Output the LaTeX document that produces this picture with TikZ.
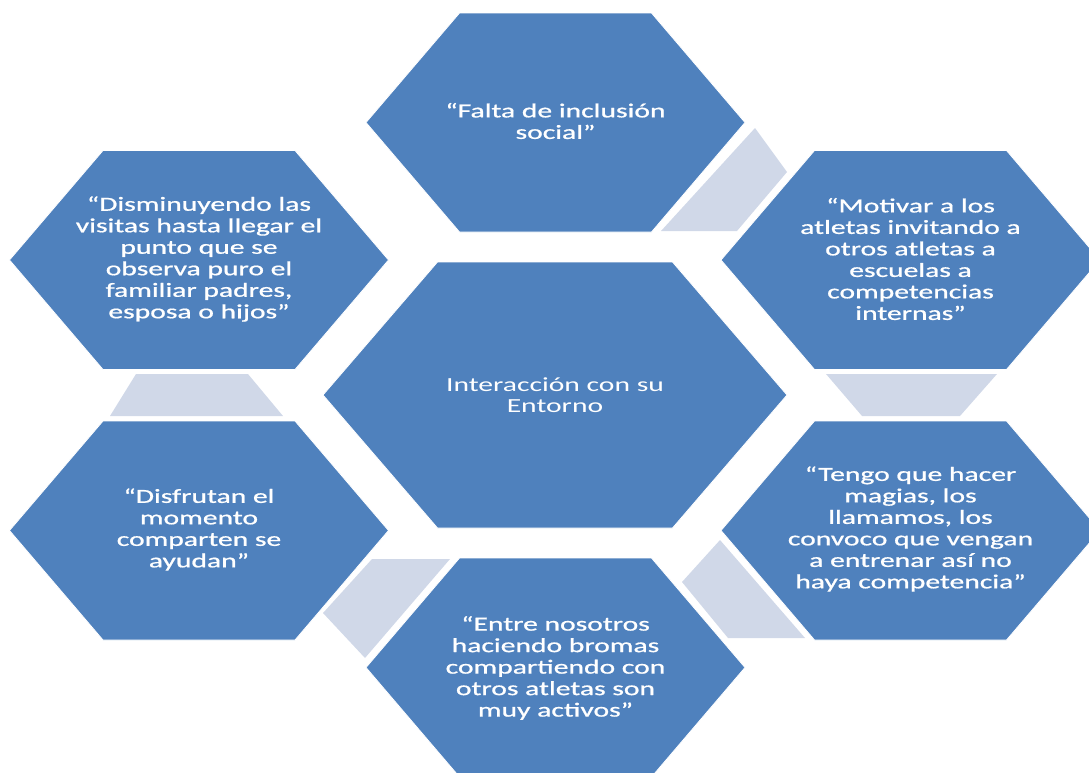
\documentclass[tikz,border=0pt]{standalone}
\usepackage{fontspec}
\setmainfont{Carlito}
\newfontfamily\outerfont[FakeBold=0.7]{Carlito}
\definecolor{hexblue}{RGB}{79,129,189}
\definecolor{arrgrey}{RGB}{208,216,232}
\newcommand{\hexshape}[5]{%
  \path[hexfill] ({#1-#3},{#2}) -- ({#1-#5},{#2-#4}) -- ({#1+#5},{#2-#4}) --
    ({#1+#3},{#2}) -- ({#1+#5},{#2+#4}) -- ({#1-#5},{#2+#4}) -- cycle;}
\begin{document}
\begin{tikzpicture}[x=1pt,y=-1pt,
  hexfill/.style={fill=hexblue, draw=white, line width=0.8pt},
  arrowpiece/.style={fill=arrgrey},
  lbl/.style={text=white, font=\fontsize{20}{21.5}\selectfont, align=center, xscale=1.48, inner sep=0pt},
  outerlbl/.style={lbl, font=\outerfont\fontsize{20}{21.5}\selectfont}]
\useasboundingbox (0,0) rectangle (1089,772);
\clip (0,0) rectangle (1089,772);
% outer hexagons
\hexshape{555.5}{122.5}{189.5}{109.5}{96}
\hexshape{199}{260}{189.5}{109.5}{96}
\hexshape{910.5}{260}{189.5}{109.5}{96}
\hexshape{199}{530.5}{189.5}{109.5}{96}
\hexshape{910.5}{530.5}{189.5}{109.5}{96}
\hexshape{555.5}{667.5}{189.5}{109.5}{96}
% centre hexagon
\hexshape{555}{395}{232}{133}{117.5}
% grey arrow pieces
\path[arrowpiece] (755,128) -- (787,172) -- (737,231) -- (661,231) -- cycle;
\path[arrowpiece] (826,374) -- (997,374) -- (960,416) -- (862,416) -- cycle;
\path[arrowpiece] (720,540) -- (805,638) -- (728,638) -- (682,582) -- cycle;
\path[arrowpiece] (372,559) -- (450,559) -- (365,658) -- (323,613) -- cycle;
\path[arrowpiece] (136,374) -- (248,374) -- (283,416) -- (110,416) -- cycle;
% labels
\node[outerlbl] (top) at (555.5,121) {“Falta de inclusión\\social”};
\node[outerlbl] (tl) at (199,259) {“Disminuyendo las\\visitas hasta llegar el\\punto que se\\observa puro el\\familiar padres,\\esposa o hijos”};
\node[outerlbl] (tr) at (910.5,259) {“Motivar a los\\atletas invitando a\\otros atletas a\\escuelas a\\competencias\\internas”};
\node[outerlbl] (br) at (910.5,529) {“Tengo que hacer\\magias, los\\llamamos, los\\convoco que vengan\\a entrenar así no\\haya competencia”};
\node[outerlbl] (bot) at (555.5,668) {“Entre nosotros\\haciendo bromas\\compartiendo con\\otros atletas son\\muy activos”};
\node[outerlbl] (bl) at (199,529.5) {“Disfrutan el\\momento\\comparten se\\ayudan”};
\node[lbl] (ctr) at (555,395) {Interacción con su\\Entorno};
\end{tikzpicture}
\end{document}
